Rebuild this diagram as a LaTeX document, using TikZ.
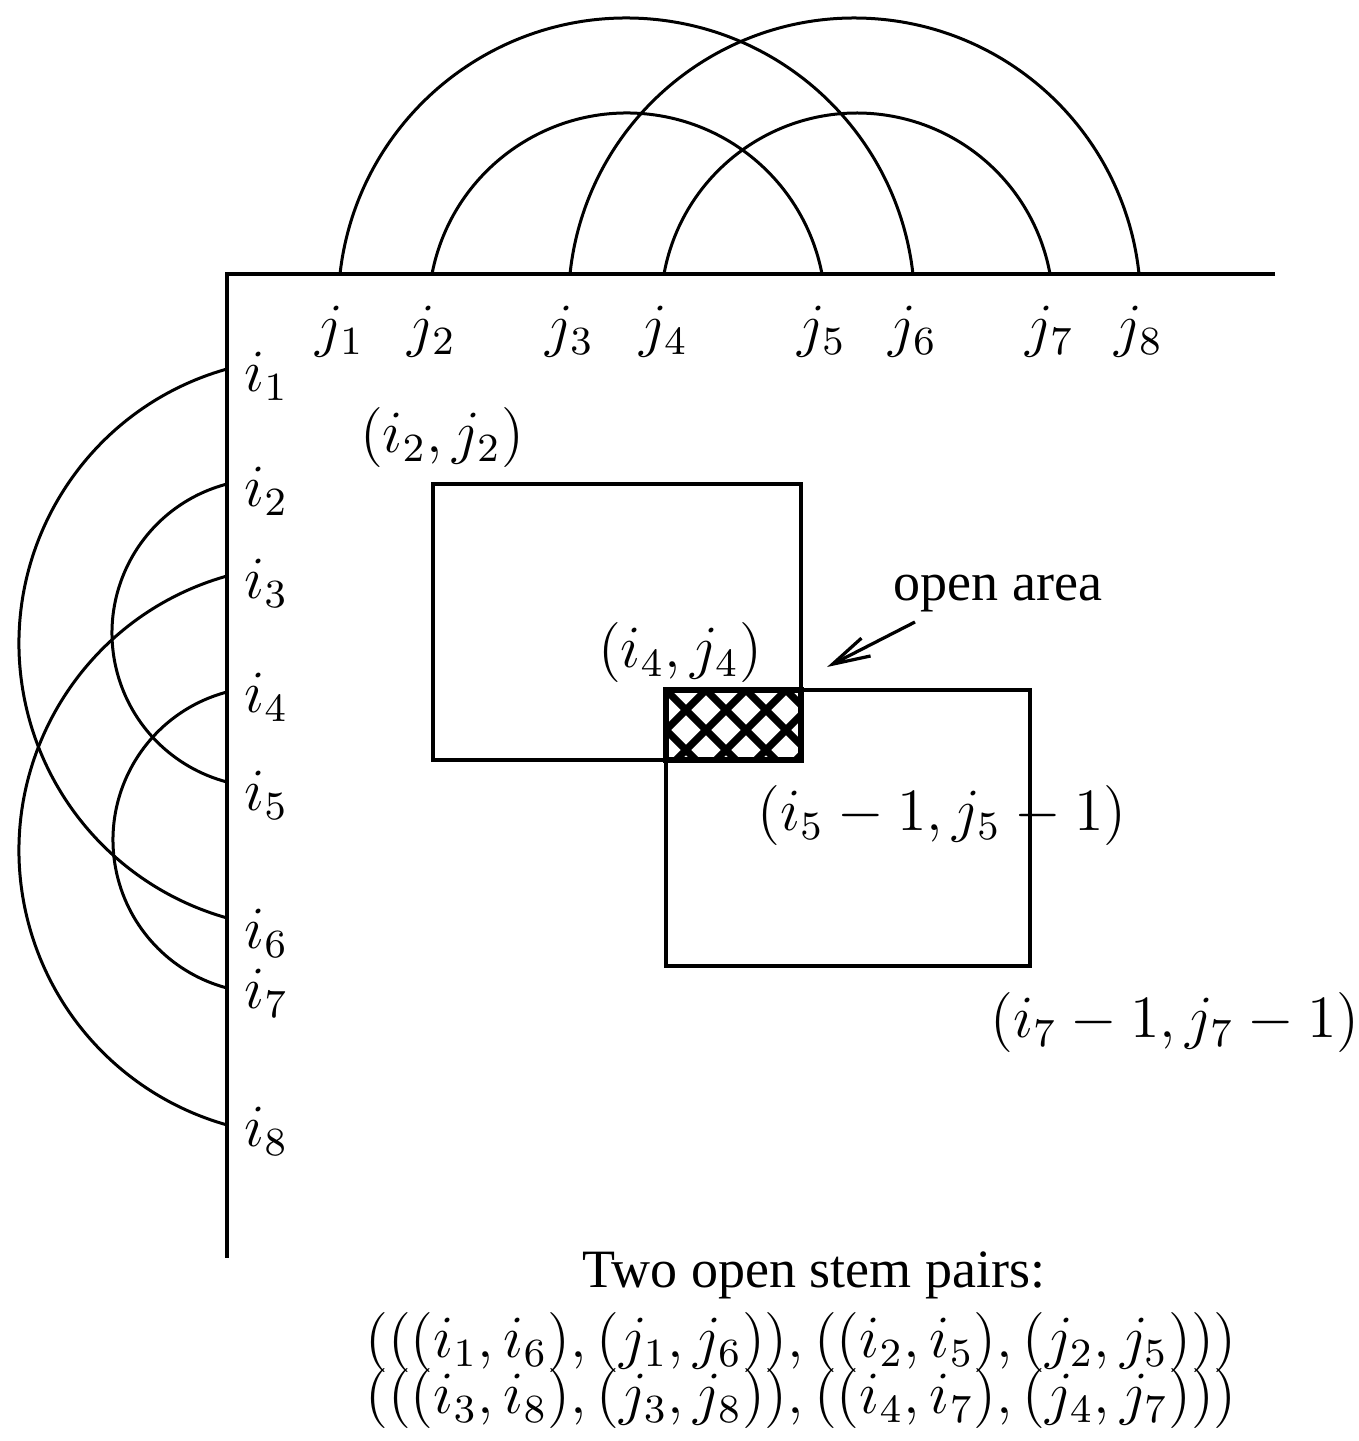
\documentclass[tikz,border=0pt]{standalone}
\usepackage{fontspec}
\newfontfamily\timesfont{Liberation Serif}
\usetikzlibrary{arrows.meta}
\begin{document}
\begin{tikzpicture}[x=0.2pt,y=-0.2pt,line width=0.65pt,
  lbl/.style={inner sep=0pt,anchor=base,font=\fontsize{12}{14}\selectfont},
  txt/.style={inner sep=0pt,anchor=base,font=\fontsize{10.8}{13}\selectfont\timesfont},
  stem/.style={line width=0.6pt},
  hatchline/.style={line width=1.45pt},
  boxline/.style={line width=0.65pt}]
\useasboundingbox (0,0) rectangle (1359,1441);
% axes
\coordinate (O) at (227,274);
\coordinate (xend) at (1275,274);
\coordinate (yend) at (227,1258);
\draw (xend) -- (O) -- (yend);
% j positions
\coordinate (j1) at (340,274);
\coordinate (j2) at (432,274);
\coordinate (j3) at (570,274);
\coordinate (j4) at (664,274);
\coordinate (j5) at (822,274);
\coordinate (j6) at (913,274);
\coordinate (j7) at (1050,274);
\coordinate (j8) at (1139,274);
% i positions
\coordinate (i1) at (227,369);
\coordinate (i2) at (227,484);
\coordinate (i3) at (227,576);
\coordinate (i4) at (227,692);
\coordinate (i5) at (227,782);
\coordinate (i6) at (227,918);
\coordinate (i7) at (227,988);
\coordinate (i8) at (227,1125);
% top arcs
\draw[stem] (j1) arc[start angle=186.43,end angle=353.57,radius=288.3];
\draw[stem] (j3) arc[start angle=186.04,end angle=353.96,radius=286.1];
\draw[stem] (j2) arc[start angle=190.91,end angle=349.09,radius=198.6];
\draw[stem] (j4) arc[start angle=190.34,end angle=349.66,radius=196.2];
% left arcs
\draw[stem] (i1) arc[start angle=254.31,end angle=105.69,radius=285.1];
\draw[stem] (i3) arc[start angle=254.31,end angle=105.69,radius=285.1];
\draw[stem] (i2) arc[start angle=255.32,end angle=104.68,radius=154.03];
\draw[stem] (i4) arc[start angle=255.21,end angle=104.79,radius=153.07];
% j labels
\foreach \n/\x in {1/340,2/432,3/570,4/664,5/822,6/913,7/1050,8/1139}
  \node[lbl] (lj\n) at (\x,345) {$j_{\n}$};
% i labels
\foreach \n/\y in {1/391,2/506,3/598,4/712,5/810,6/948,7/1008,8/1146}
  \node[lbl,anchor=base west] (li\n) at (243,\y) {$i_{\n}$};
% rectangles
\coordinate (r1a) at (433,484);
\coordinate (r1b) at (801,760);
\coordinate (r2a) at (666,690);
\coordinate (r2b) at (1030,966);
\draw[boxline] (r1a) rectangle (r1b);
\draw[boxline] (r2a) rectangle (r2b);
% hatched overlap
\begin{scope}
  \clip (r2a) rectangle (r1b);
  \foreach \k in {-5,...,6} {
    \draw[hatchline] (566+40*\k,590) -- (866+40*\k,890);
    \draw[hatchline] (566+40*\k,790) -- (766+40*\k,590);
  }
\end{scope}
\draw[line width=1.3pt] (r2a) rectangle (r1b);
% labels
\node[lbl] (p22) at (442,452) {$(i_2,j_2)$};
\node[lbl] (p44) at (680,667) {$(i_4,j_4)$};
\node[lbl] (p55) at (942,830) {$(i_5-1,j_5-1)$};
\node[lbl] (p77) at (1175,1037) {$(i_7-1,j_7-1)$};
\node[txt] (open) at (998,600) {open area};
\coordinate (arrS) at (915,622);
\coordinate (arrE) at (827,667);
\draw[-{Straight Barb[length=7.5pt,width=4pt]}] (arrS) -- (arrE);
\node[txt] (title) at (814,1287) {Two open stem pairs:};
\node[lbl] (f1) at (801,1357) {$(((i_1,i_6),(j_1,j_6)),((i_2,i_5),(j_2,j_5)))$};
\node[lbl] (f2) at (801,1413) {$(((i_3,i_8),(j_3,j_8)),((i_4,i_7),(j_4,j_7)))$};
\end{tikzpicture}
\end{document}
